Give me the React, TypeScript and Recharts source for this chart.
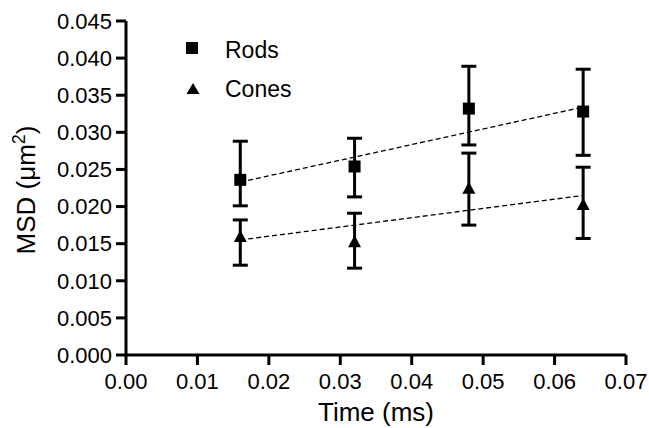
import {
  ScatterChart,
  Scatter,
  XAxis,
  YAxis,
  ErrorBar,
  Legend,
} from 'recharts';

// values
const times = [0.016, 0.032, 0.048, 0.064];

const rodsMsd = [0.0236, 0.0254, 0.0332, 0.0328];
const rodsUpper = [0.0288, 0.0292, 0.0389, 0.0385];
const rodsLower = [0.0201, 0.0213, 0.0283, 0.0269];

const conesMsd = [0.0159, 0.0152, 0.0224, 0.0202];
const conesUpper = [0.0182, 0.0191, 0.0272, 0.0253];
const conesLower = [0.0121, 0.0117, 0.0175, 0.0157];

// end points of the dashed linear fits
const fitTimes = [0.016, 0.064];
const rodsFit = [0.0233, 0.0334];
const conesFit = [0.0155, 0.0215];

const xTicks = [0, 0.01, 0.02, 0.03, 0.04, 0.05, 0.06, 0.07];
const yTicks = [0, 0.005, 0.01, 0.015, 0.02, 0.025, 0.03, 0.035, 0.04, 0.045];

const seriesNames = ['Rods', 'Cones'];

const FONT = '"Liberation Sans", Arial, Helvetica, sans-serif';

const rodsData = times.map((t, i) => ({
  x: t,
  y: rodsMsd[i],
  err: [rodsMsd[i] - rodsLower[i], rodsUpper[i] - rodsMsd[i]],
}));
const conesData = times.map((t, i) => ({
  x: t,
  y: conesMsd[i],
  err: [conesMsd[i] - conesLower[i], conesUpper[i] - conesMsd[i]],
}));
const rodsFitData = fitTimes.map((t, i) => ({ x: t, y: rodsFit[i] }));
const conesFitData = fitTimes.map((t, i) => ({ x: t, y: conesFit[i] }));

const SquareShape = (p: any) => (
  <rect x={p.cx - 6} y={p.cy - 6} width={12} height={12} fill="#000" />
);
const TriangleShape = (p: any) => (
  <polygon
    points={`${p.cx},${p.cy - 7} ${p.cx + 6.5},${p.cy + 5} ${p.cx - 6.5},${p.cy + 5}`}
    fill="#000"
  />
);
const NoShape = () => <g />;

function LegendBox() {
  return (
    <svg width={649} height={428} style={{ position: 'absolute', left: 0, top: 0 }}>
      <rect x={186} y={42} width={12} height={12} fill="#000" />
      <text x={225} y={57.5} fontSize={23} fontFamily={FONT} fill="#000">
        {seriesNames[0]}
      </text>
      <polygon points="193,83 199.5,94 186.5,94" fill="#000" />
      <text x={225} y={96.5} fontSize={23} fontFamily={FONT} fill="#000">
        {seriesNames[1]}
      </text>
    </svg>
  );
}

const tickStyle = { fill: '#000', fontSize: 22, fontFamily: FONT };
const axisStroke = { stroke: '#000', strokeWidth: 3 };

export default function App() {
  return (
    <div style={{ position: 'absolute', left: 0, top: 0, background: '#fff' }}>
      <ScatterChart
        width={649}
        height={428}
        margin={{ top: 21, right: 23, left: 0, bottom: 0 }}
      >
        <XAxis
          type="number"
          dataKey="x"
          domain={[0, 0.07]}
          ticks={xTicks}
          interval={0}
          height={73}
          tickFormatter={(v: number) => v.toFixed(2)}
          tick={tickStyle}
          tickSize={10}
          tickMargin={8}
          axisLine={axisStroke}
          tickLine={axisStroke}
          allowDataOverflow
          label={{
            content: (props: any) => {
              const vb = props.viewBox || { x: 126, width: 500 };
              return (
                <text
                  x={vb.x + vb.width / 2}
                  y={421}
                  textAnchor="middle"
                  fontSize={26}
                  fontFamily={FONT}
                  fill="#000"
                >
                  Time (ms)
                </text>
              );
            },
          }}
        />
        <YAxis
          type="number"
          dataKey="y"
          domain={[0, 0.045]}
          ticks={yTicks}
          interval={0}
          width={126}
          tickFormatter={(v: number) => v.toFixed(3)}
          tick={tickStyle}
          tickSize={10}
          tickMargin={4}
          axisLine={axisStroke}
          tickLine={axisStroke}
          allowDataOverflow
          label={{
            content: () => (
              <text
                x={35}
                y={190}
                transform="rotate(-90, 35, 190)"
                textAnchor="middle"
                fontSize={26}
                fontFamily={FONT}
                fill="#000"
              >
                MSD (μm
                <tspan dy={-10} fontSize={18}>2</tspan>
                <tspan dy={10}>)</tspan>
              </text>
            ),
          }}
        />
        <Legend
          layout="vertical"
          align="center"
          verticalAlign="middle"
          wrapperStyle={{ left: 0, top: 0, width: 649, height: 428, pointerEvents: 'none' }}
          content={() => <LegendBox />}
        />
        <Scatter
          name="Rods fit"
          data={rodsFitData}
          line={{ stroke: '#000', strokeWidth: 1.3, strokeDasharray: '5 3' }}
          shape={NoShape}
          legendType="none"
          isAnimationActive={false}
        />
        <Scatter
          name="Cones fit"
          data={conesFitData}
          line={{ stroke: '#000', strokeWidth: 1.3, strokeDasharray: '5 3' }}
          shape={NoShape}
          legendType="none"
          isAnimationActive={false}
        />
        <Scatter
          name={seriesNames[0]}
          data={rodsData}
          shape={SquareShape}
          isAnimationActive={false}
        >
          <ErrorBar dataKey="err" direction="y" width={7.5} strokeWidth={3} stroke="#000" isAnimationActive={false} />
        </Scatter>
        <Scatter
          name={seriesNames[1]}
          data={conesData}
          shape={TriangleShape}
          isAnimationActive={false}
        >
          <ErrorBar dataKey="err" direction="y" width={7.5} strokeWidth={3} stroke="#000" isAnimationActive={false} />
        </Scatter>
      </ScatterChart>
    </div>
  );
}
